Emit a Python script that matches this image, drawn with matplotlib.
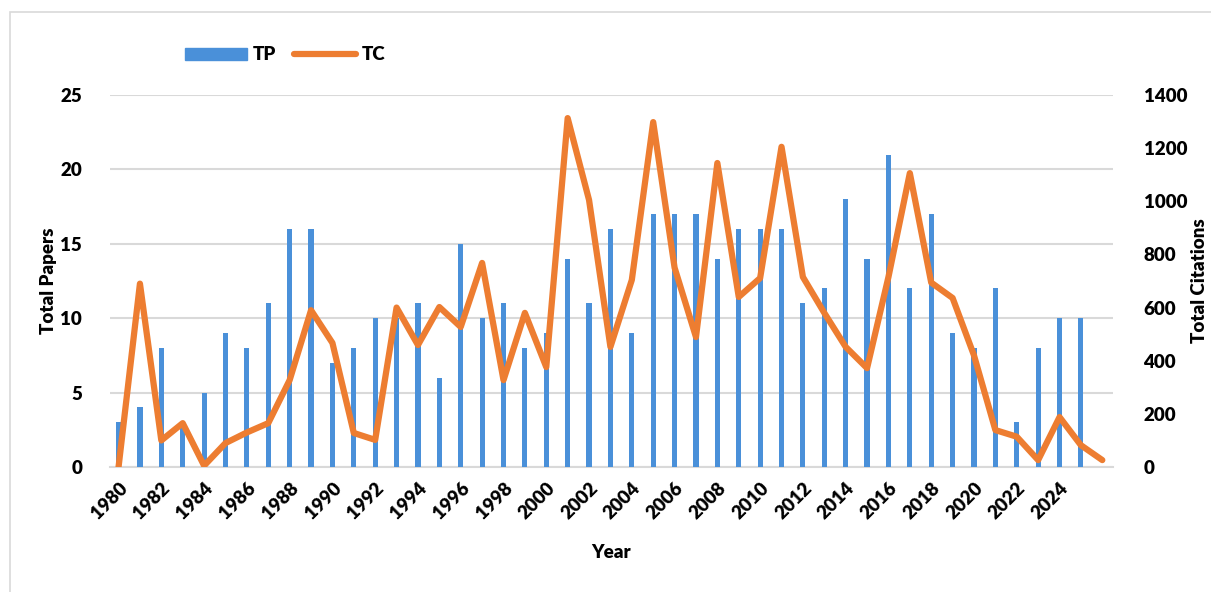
import numpy as np
import matplotlib
matplotlib.use("Agg")
import matplotlib.pyplot as plt
from matplotlib.patches import Rectangle, Patch
from matplotlib.lines import Line2D

# data -------------------------------------------------------
years = list(range(1980, 2027))
tp = [3, 4, 8, 3, 5, 9, 8, 11, 16, 16,
      7, 8, 10, 10, 11, 6, 15, 10, 11, 8,
      9, 14, 11, 16, 9, 17, 17, 17, 14, 16,
      16, 16, 11, 12, 18, 14, 21, 12, 17, 9,
      8, 12, 3, 8, 10, 10]
tc = [0, 690, 100, 165, 5, 90, 130, 165, 327, 590,
      467, 128, 102, 600, 459, 602, 527, 768, 327, 580,
      376, 1313, 1005, 452, 704, 1298, 750, 489, 1144, 640,
      711, 1205, 715, 580, 452, 372, 715, 1106, 694, 636,
      420, 139, 114, 26, 188, 82, 26]
tick_years = list(range(1980, 2025, 2))

plt.rcParams['font.family'] = ['Lato', 'DejaVu Sans']

bar_col = "#4a90d9"
line_col = "#ED7D31"
grid_col = "#d9d9d9"
fw = 'heavy'
fs = 13.5

fig = plt.figure(figsize=(12.11, 5.92), dpi=100)
ax = fig.add_axes([110/1211, 125/592, 1003/1211, 372/592])
ax2 = ax.twinx()

ax.set_zorder(1)
ax2.set_zorder(2)
ax.patch.set_visible(False)

ax.bar(years[:len(tp)], tp, width=0.24, color=bar_col, zorder=3)
ax2.plot(years[:len(tc)], tc, color=line_col, lw=4.5,
         solid_joinstyle='round', solid_capstyle='round')

ax.set_xlim(1979.6, 2026.5)
ax.set_ylim(0, 25)
ax2.set_ylim(0, 1400)
ax.set_yticks(range(0, 26, 5))
ax2.set_yticks(range(0, 1401, 200))
ax.yaxis.grid(True, color=grid_col, lw=1.5, zorder=0)
ax.set_axisbelow(True)

ax.set_xticks(tick_years)
ax.set_xticklabels([str(y) for y in tick_years], rotation=45, ha='right',
                   rotation_mode='anchor')
for a in (ax, ax2):
    for s in a.spines.values():
        s.set_visible(False)
    a.tick_params(length=0, labelsize=fs)
    for lab in a.get_xticklabels() + a.get_yticklabels():
        lab.set_fontweight(fw)
ax.spines['bottom'].set_visible(True)
ax.spines['bottom'].set_color(grid_col)
ax.spines['bottom'].set_linewidth(1.5)
ax.tick_params(axis='y', pad=20)
ax.tick_params(axis='x', pad=9)
ax2.tick_params(axis='y', pad=22)

ax.set_ylabel("Total Papers", fontsize=fs, fontweight=fw, va='center')
ax2.set_ylabel("Total Citations", fontsize=fs, fontweight=fw, va='center')
ax.set_xlabel("Year", fontsize=fs, fontweight=fw, va='center')
ax.yaxis.set_label_coords(-0.061, 0.5)
ax2.yaxis.set_label_coords(1.086, 0.5)
ax.xaxis.set_label_coords(0.5, -0.231)

handles = [Patch(color=bar_col, label="TP"),
           Line2D([0], [0], color=line_col, lw=4.5, solid_capstyle='round', label="TC")]
fig.legend(handles=handles, loc='center left', bbox_to_anchor=(168/1211, 1 - 55/592),
           ncol=2, frameon=False, prop={'size': fs, 'weight': fw},
           handlelength=3.3, handleheight=0.55, handletextpad=0.3,
           columnspacing=1.0)

fig.patches.append(Rectangle((10/1211, -0.01), 1.0, 1 - 12/592 + 0.01,
                             transform=fig.transFigure, fill=False,
                             edgecolor=grid_col, lw=1.2))

fig.savefig("out.png", dpi=100)
